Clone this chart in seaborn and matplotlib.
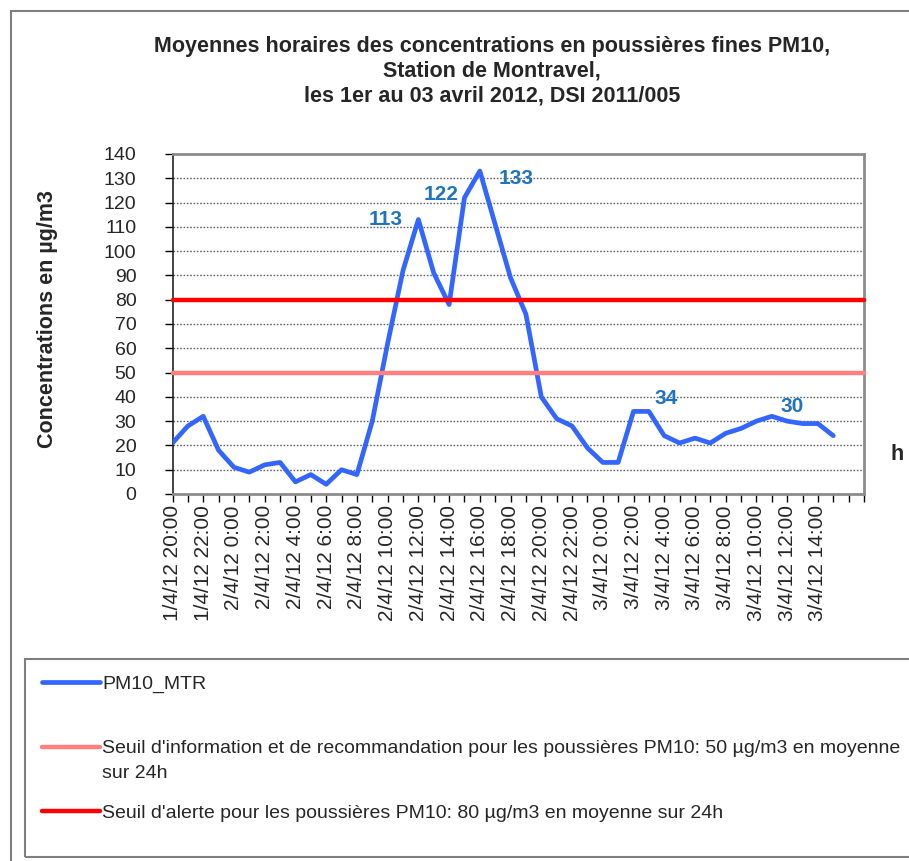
import matplotlib
matplotlib.use("Agg")
import matplotlib.pyplot as plt
from matplotlib.patches import Rectangle
import numpy as np
import seaborn as sns

# Données horaires PM10, station de Montravel (1/4/12 20:00 -> 3/4/12 15:00)
pm10_mtr = [21, 28, 32, 18, 11, 9, 12, 13, 5, 8, 4, 10, 8, 30, 62, 92, 113, 91, 78, 122,
            133, 111, 89, 74, 40, 31, 28, 19, 13, 13, 34, 34, 24, 21, 23, 21, 25, 27, 30, 32,
            30, 29, 29, 24]
heures = np.arange(len(pm10_mtr))

seuil_info = 50
seuil_alerte = 80

etiquettes_x = ["1/4/12 20:00", "1/4/12 22:00", "2/4/12 0:00", "2/4/12 2:00", "2/4/12 4:00",
                "2/4/12 6:00", "2/4/12 8:00", "2/4/12 10:00", "2/4/12 12:00", "2/4/12 14:00",
                "2/4/12 16:00", "2/4/12 18:00", "2/4/12 20:00", "2/4/12 22:00", "3/4/12 0:00",
                "3/4/12 2:00", "3/4/12 4:00", "3/4/12 6:00", "3/4/12 8:00", "3/4/12 10:00",
                "3/4/12 12:00", "3/4/12 14:00"]

# valeurs mises en avant (indice) et décalage de l'étiquette en pixels
points_annotes = [16, 19, 20, 31, 40]
decalages = [(-33, 0), (-23, 3), (36, -8), (17, 13), (5, 15)]

sns.set_style("white")
plt.rcParams["font.family"] = ["Liberation Sans", "DejaVu Sans"]

W, H = 909, 861
fig = plt.figure(figsize=(W / 100, H / 100), dpi=100)
ax = fig.add_axes([172.5 / W, 1 - 494 / H, (864 - 172.5) / W, (494 - 154) / H])

sns.lineplot(x=heures, y=pm10_mtr, ax=ax, color="#3366FF", lw=3.4, label="PM10_MTR", zorder=3)
l_info = ax.axhline(seuil_info, color="#FF8080", lw=3.2, zorder=4, clip_on=False,
                    label="Seuil d'information et de recommandation pour les poussières PM10: 50 µg/m3 en moyenne")
l_alerte = ax.axhline(seuil_alerte, color="#FF0000", lw=3.2, zorder=4, clip_on=False,
                      label="Seuil d'alerte pour les poussières PM10: 80 µg/m3 en moyenne sur 24h")
ax.get_legend().remove()

for i, (dx, dy) in zip(points_annotes, decalages):
    ax.annotate(str(pm10_mtr[i]), xy=(heures[i], pm10_mtr[i]), xytext=(dx, dy),
                textcoords="offset pixels", ha="center", va="center",
                color="#1F74BF", fontsize=15, fontweight="bold", zorder=5)

ax.set_xlim(0, 45)
ax.set_ylim(0, 140)
ax.set_yticks(range(0, 141, 10))
ax.set_xticks(range(0, 43, 2))
ax.set_xticklabels(etiquettes_x, rotation=90, fontsize=15)
ax.set_xticks(range(0, 46), minor=True)
ax.tick_params(axis="y", labelsize=14, length=6, width=1, color="black", pad=20, left=True, direction="out")
ax.tick_params(axis="x", which="both", length=6, width=1, color="black", pad=2, bottom=True, direction="out")

ax.yaxis.grid(True, linestyle=(0, (1.2, 1.2)), color="#666666", lw=1)
ax.xaxis.grid(False)
for c in ["top", "right", "bottom"]:
    ax.spines[c].set_color("#8c8c8c")
    ax.spines[c].set_linewidth(2)
ax.spines["left"].set_color("#222222")
ax.spines["left"].set_linewidth(1.2)

ax.set_xlabel("")
ax.set_ylabel("Concentrations en µg/m3", fontsize=15.5, fontweight="bold")
ax.yaxis.set_label_coords((58 - 172.5) / 691.5, (494 - 319) / 340)

fig.text(897 / W, 1 - 455 / H, "h", fontsize=15.5, fontweight="bold", ha="center", va="center")

fig.suptitle("Moyennes horaires des concentrations en poussières fines PM10,\n"
             "Station de Montravel,\nles 1er au 03 avril 2012, DSI 2011/005",
             x=492 / W, y=1 - 71.5 / H, va="center", fontsize=15.5, fontweight="bold", linespacing=1.22)

# cadre général et cadre de la légende
fig.patches.append(Rectangle((11 / W, -0.1), 1.2, 1 - 11 / H + 0.1, transform=fig.transFigure,
                             fill=False, ec="#7f7f7f", lw=1.5))
fig.patches.append(Rectangle((25 / W, 1 - 857 / H), 1.1, (857 - 659) / H, transform=fig.transFigure,
                             fill=False, ec="#7f7f7f", lw=1.5))

handles = [ax.get_lines()[0], l_info, l_alerte]
leg = fig.legend(handles, [h.get_label() for h in handles], loc="upper left",
                 bbox_to_anchor=(42 / W, 1 - 675 / H), frameon=False, fontsize=14,
                 borderpad=0, borderaxespad=0, handlelength=3.0, handletextpad=0.1,
                 labelspacing=2.42)
fig.text(102 / W, 1 - 773 / H, "sur 24h", fontsize=14, ha="left", va="center")

fig.savefig("out.png", dpi=100)
